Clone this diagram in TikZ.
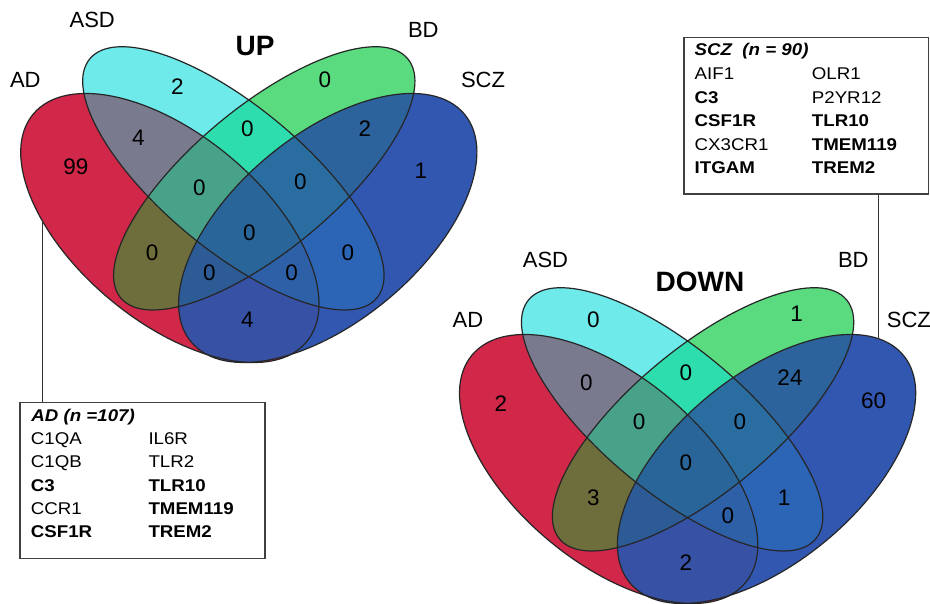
\documentclass[tikz,border=0pt]{standalone}
\usepackage{fontspec}
\setmainfont{Liberation Sans}
\newfontfamily\boxfont[FakeStretch=1.1]{Liberation Sans}

% region colours: 1 = AD, 2 = ASD, 3 = BD, 4 = SCZ
\definecolor{r1}{RGB}{209,39,72}
\definecolor{r2}{RGB}{110,234,235}
\definecolor{r3}{RGB}{90,219,128}
\definecolor{r4}{RGB}{49,87,176}
\definecolor{r12}{RGB}{122,122,143}
\definecolor{r13}{RGB}{109,110,60}
\definecolor{r14}{RGB}{55,81,165}
\definecolor{r23}{RGB}{46,221,174}
\definecolor{r24}{RGB}{44,100,182}
\definecolor{r34}{RGB}{44,99,156}
\definecolor{r123}{RGB}{72,162,137}
\definecolor{r124}{RGB}{46,96,168}
\definecolor{r134}{RGB}{44,91,150}
\definecolor{r234}{RGB}{42,110,161}
\definecolor{r1234}{RGB}{41,101,152}

% the four ellipses of one diagram (pixel units, y pointing down)
\newcommand\ellAD{(169.85,228) circle [x radius=177.9, y radius=93.2, rotate=-39.8]}
\newcommand\ellASD{(233.35,178.35) circle [x radius=186.8, y radius=71.6, rotate=-39.8]}
\newcommand\ellBD{(264.25,178.35) circle [x radius=186.8, y radius=71.6, rotate=39.8]}
\newcommand\ellSCZ{(327.75,228) circle [x radius=177.9, y radius=93.2, rotate=39.8]}

% paint every intersection, lower orders first, then the outlines
\newcommand\fourellipses{%
  \fill[r1] \ellAD; \fill[r2] \ellASD; \fill[r3] \ellBD; \fill[r4] \ellSCZ;
  \begin{scope}\clip \ellAD;  \fill[r12] \ellASD; \end{scope}
  \begin{scope}\clip \ellAD;  \fill[r13] \ellBD;  \end{scope}
  \begin{scope}\clip \ellAD;  \fill[r14] \ellSCZ; \end{scope}
  \begin{scope}\clip \ellASD; \fill[r23] \ellBD;  \end{scope}
  \begin{scope}\clip \ellASD; \fill[r24] \ellSCZ; \end{scope}
  \begin{scope}\clip \ellBD;  \fill[r34] \ellSCZ; \end{scope}
  \begin{scope}\clip \ellAD; \clip \ellASD; \fill[r123] \ellBD;  \end{scope}
  \begin{scope}\clip \ellAD; \clip \ellASD; \fill[r124] \ellSCZ; \end{scope}
  \begin{scope}\clip \ellAD; \clip \ellBD;  \fill[r134] \ellSCZ; \end{scope}
  \begin{scope}\clip \ellASD; \clip \ellBD; \fill[r234] \ellSCZ; \end{scope}
  \begin{scope}\clip \ellAD; \clip \ellASD; \clip \ellBD; \fill[r1234] \ellSCZ; \end{scope}
  \draw[outl] \ellAD; \draw[outl] \ellASD; \draw[outl] \ellBD; \draw[outl] \ellSCZ;
}

\tikzset{
  outl/.style={draw=black!85, line width=1.2pt},
  setlabel/.style={anchor=base, inner sep=0pt, font=\fontsize{22}{26}\selectfont},
  count/.style={anchor=base, inner sep=0pt, font=\fontsize{22.5}{26}\selectfont},
  headline/.style={anchor=base, inner sep=0pt, font=\fontsize{28}{32}\selectfont\bfseries},
  genebox/.style={draw=black!75, line width=1.4pt, inner sep=0pt, fill=white},
  gene/.style={anchor=base west, inner sep=0pt, font=\boxfont\fontsize{17}{20}\selectfont},
  keygene/.style={anchor=base west, inner sep=0pt, font=\boxfont\fontsize{17}{20}\selectfont\bfseries},
  boxtitle/.style={anchor=base west, inner sep=0pt, font=\boxfont\fontsize{17}{20}\selectfont\bfseries\itshape},
  leader/.style={draw=black!80, line width=1.3pt},
}

\begin{document}
\begin{tikzpicture}[x=1pt, y=-1pt]
\useasboundingbox[fill=white] (0,0) rectangle (930,604);

% ---------- UP ----------
\fourellipses
\node[headline] (upTitle) at (255,55.5) {UP};
\node[setlabel] (upAD)  at (25.3,88)   {AD};
\node[setlabel] (upASD) at (92.2,27.1) {ASD};
\node[setlabel] (upBD)  at (423.3,37.4) {BD};
\node[setlabel] (upSCZ) at (483,87.4)  {SCZ};

\node[count] (u1)    at (75.8,174.7)  {99};
\node[count] (u2)    at (177.5,94.2)  {2};
\node[count] (u3)    at (325,88)      {0};
\node[count] (u4)    at (420.8,178.8) {1};
\node[count] (u12)   at (138.3,145.8) {4};
\node[count] (u23)   at (247.5,136.3) {0};
\node[count] (u34)   at (365,136.3)   {2};
\node[count] (u123)  at (199.5,196)   {0};
\node[count] (u234)  at (300.5,189.3) {0};
\node[count] (u1234) at (249.5,240.8) {0};
\node[count] (u13)   at (152.2,260.8) {0};
\node[count] (u24)   at (347.8,260.8) {0};
\node[count] (u134)  at (209.5,280.8) {0};
\node[count] (u124)  at (291.7,280.8) {0};
\node[count] (u14)   at (247.5,327.8) {4};

% ---------- DOWN ----------
\begin{scope}[shift={(438.8,241)}]
\fourellipses
\end{scope}
\node[headline] (dnTitle) at (700,292) {DOWN};
\node[setlabel] (dnAD)  at (468,327.4)   {AD};
\node[setlabel] (dnASD) at (545.5,267.4) {ASD};
\node[setlabel] (dnBD)  at (853.3,267.4) {BD};
\node[setlabel, anchor=base west] (dnSCZ) at (886.7,327) {SCZ};

\node[count] (d2)    at (593.3,327.5) {0};
\node[count] (d3)    at (796.7,321.3) {1};
\node[count] (d1)    at (500.8,411.3) {2};
\node[count] (d4)    at (873.7,408.5) {60};
\node[count] (d12)   at (586.5,390.2) {0};
\node[count] (d23)   at (685.8,380.3) {0};
\node[count] (d34)   at (790,385.5)   {24};
\node[count] (d123)  at (639.2,429.2) {0};
\node[count] (d234)  at (739.8,429.2) {0};
\node[count] (d1234) at (685.8,470.8) {0};
\node[count] (d13)   at (593.3,505.2) {3};
\node[count] (d24)   at (784.2,505.2) {1};
\node[count] (d124)  at (727.8,523)   {0};
\node[count] (d14)   at (685.8,570.8) {2};

% ---------- gene boxes ----------
\node[genebox, minimum width=245pt, minimum height=155.6pt] (adBox) at (142.5,480.5) {};
\coordinate (adTip) at (42.5,221.2);
\draw[leader] (adTip) -- (adTip |- adBox.north);

\node[boxtitle] (adHead) at (31.2,421.1) {AD (n =107)};
\node[gene]    (adA1) at (30.7,444.4) {C1QA};
\node[gene]    (adA2) at (30.7,467.8) {C1QB};
\node[keygene] (adA3) at (30.7,491.1) {C3};
\node[gene]    (adA4) at (30.7,514.4) {CCR1};
\node[keygene] (adA5) at (30.7,537.8) {CSF1R};
\node[gene]    (adB1) at (148.3,444.4) {IL6R};
\node[gene]    (adB2) at (148.3,467.8) {TLR2};
\node[keygene] (adB3) at (148.3,491.1) {TLR10};
\node[keygene] (adB4) at (148.3,514.4) {TMEM119};
\node[keygene] (adB5) at (148.3,537.8) {TREM2};

\node[genebox, minimum width=244.3pt, minimum height=156.7pt] (sczBox) at (806.15,115.65) {};
\coordinate (sczTip) at (878.7,338.8);
\draw[leader] (sczBox.south -| sczTip) -- (sczTip);

\node[boxtitle] (sczHead) at (694.5,55.6) {SCZ\ \ (n = 90)};
\node[gene]    (sczA1) at (694.5,79.6)  {AIF1};
\node[keygene] (sczA2) at (694.5,103.1) {C3};
\node[keygene] (sczA3) at (694.5,126.6) {CSF1R};
\node[gene]    (sczA4) at (694.5,150.1) {CX3CR1};
\node[keygene] (sczA5) at (694.5,173.4) {ITGAM};
\node[gene]    (sczB1) at (811.7,79.6)  {OLR1};
\node[gene]    (sczB2) at (811.7,103.1) {P2YR12};
\node[keygene] (sczB3) at (811.7,126.6) {TLR10};
\node[keygene] (sczB4) at (811.7,150.1) {TMEM119};
\node[keygene] (sczB5) at (811.7,173.4) {TREM2};
\end{tikzpicture}
\end{document}
